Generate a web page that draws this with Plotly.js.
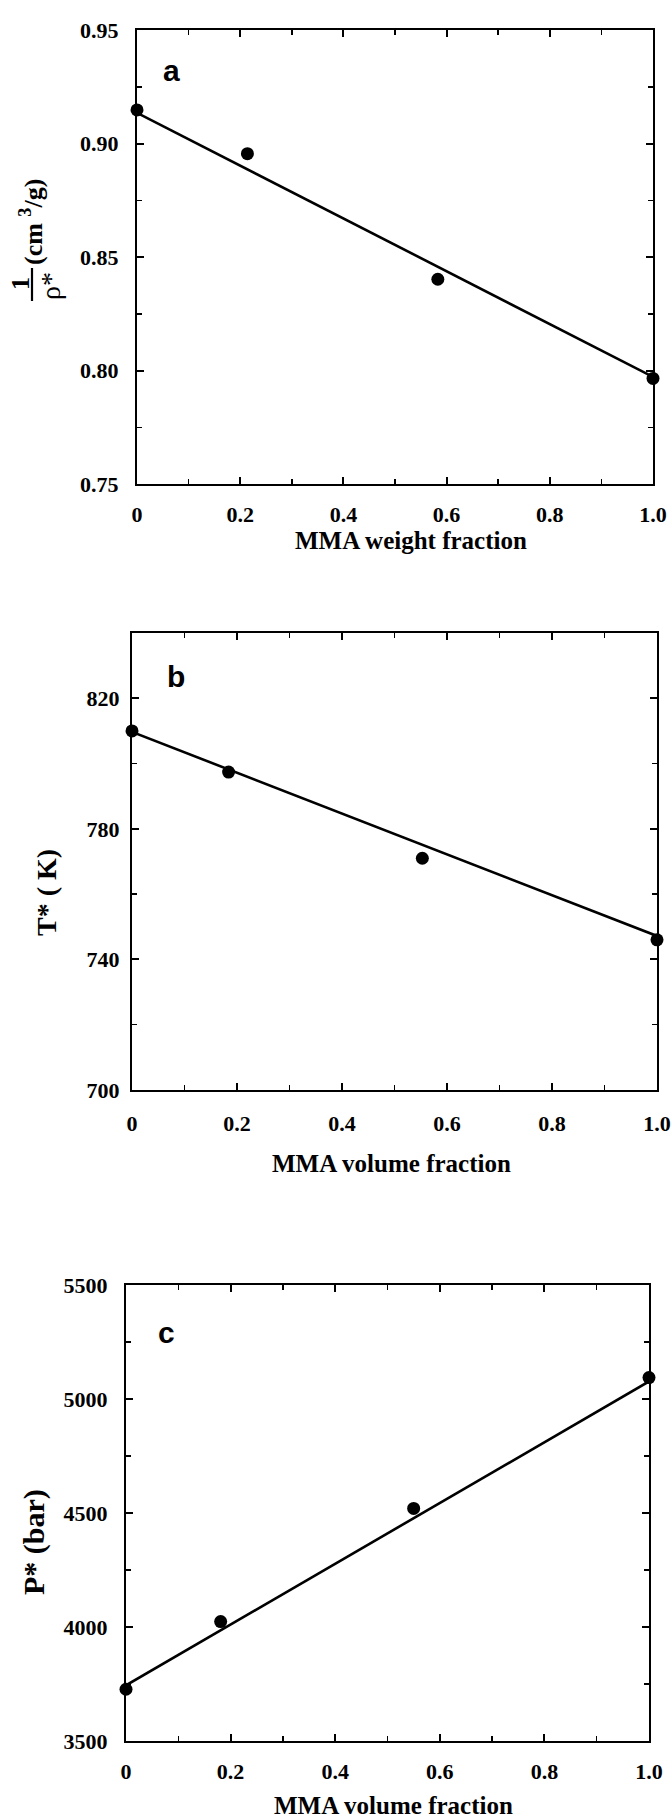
<!DOCTYPE html>
<html>
<head>
<meta charset="utf-8">
<script src="https://cdn.plot.ly/plotly-3.0.1.min.js"></script>
<style>html,body{margin:0;padding:0;background:#fff;}#chart{width:672px;height:1816px;}</style>
</head>
<body>
<div id="chart"></div>
<script>
// Panel a: 1/rho* vs MMA weight fraction
const aX = [0, 0.214, 0.583, 1.0];
const aY = [0.9148, 0.8955, 0.8402, 0.7965];
const aFitX = [0, 1.0];
const aFitY = [0.9135, 0.7972];
// Panel b: T* vs MMA volume fraction
const bX = [0, 0.184, 0.553, 1.0];
const bY = [810.0, 797.4, 771.0, 746.0];
const bFitX = [0, 1.0];
const bFitY = [809.7, 747.2];
// Panel c: P* vs MMA volume fraction
const cX = [0, 0.181, 0.550, 1.0];
const cY = [3727, 4024, 4520, 5094];
const cFitX = [0, 1.0];
const cFitY = [3744, 5077];

const xTickVals = [0, 0.2, 0.4, 0.6, 0.8, 1.0];
const xTickText = ["0", "0.2", "0.4", "0.6", "0.8", "1.0"];
const aTickVals = [0.75, 0.80, 0.85, 0.90, 0.95];
const aTickText = ["0.75", "0.80", "0.85", "0.90", "0.95"];
const bTickVals = [700, 740, 780, 820];
const bTickText = ["700", "740", "780", "820"];
const cTickVals = [3500, 4000, 4500, 5000, 5500];
const cTickText = ["3500", "4000", "4500", "5000", "5500"];

const W = 672, H = 1816;
const px = v => v / W;
const py = v => 1 - v / H;

const SERIF = "Liberation Serif";
const SANS = "Liberation Sans";
const tickFont = {family: SERIF, size: 22, color: '#000', weight: 'bold'};

function pts(x, y, xa, ya) {
  return {x: x, y: y, xaxis: xa, yaxis: ya, type: 'scatter', mode: 'markers',
    marker: {color: '#000', size: 13}, cliponaxis: false, showlegend: false, hoverinfo: 'skip'};
}
function fit(x, y, xa, ya) {
  return {x: x, y: y, xaxis: xa, yaxis: ya, type: 'scatter', mode: 'lines',
    line: {color: '#000', width: 2.6}, cliponaxis: false, showlegend: false, hoverinfo: 'skip'};
}

const data = [
  fit(aFitX, aFitY, 'x', 'y'), pts(aX, aY, 'x', 'y'),
  fit(bFitX, bFitY, 'x2', 'y2'), pts(bX, bY, 'x2', 'y2'),
  fit(cFitX, cFitY, 'x3', 'y3'), pts(cX, cY, 'x3', 'y3')
];

function xax(dom, anchor, standoff) {
  return {domain: dom, anchor: anchor, range: [0, 1], tickvals: xTickVals, ticktext: xTickText,
    showline: true, linecolor: '#000', linewidth: 2, mirror: 'allticks',
    ticks: 'inside', ticklen: 7, tickwidth: 2, tickcolor: '#000',
    minor: {dtick: 0.1, ticks: 'inside', ticklen: 5, tickwidth: 1.5, tickcolor: '#000', showgrid: false},
    showgrid: false, zeroline: false, automargin: false, fixedrange: true,
    tickfont: tickFont, ticklabelstandoff: standoff};
}
function yax(dom, anchor, range, tv, tt, minorDt, standoff) {
  return {domain: dom, anchor: anchor, range: range, tickvals: tv, ticktext: tt,
    showline: true, linecolor: '#000', linewidth: 2, mirror: 'allticks',
    ticks: 'inside', ticklen: 7, tickwidth: 2, tickcolor: '#000',
    minor: {dtick: minorDt, tick0: range[0], ticks: 'inside', ticklen: 5, tickwidth: 1.5, tickcolor: '#000', showgrid: false},
    showgrid: false, zeroline: false, automargin: false, fixedrange: true,
    tickfont: tickFont, ticklabelstandoff: standoff};
}

function ann(text, x, y, opts) {
  return Object.assign({text: text, x: px(x), y: py(y), xref: 'paper', yref: 'paper',
    showarrow: false, xanchor: 'center', yanchor: 'middle',
    font: {family: SERIF, size: 25, color: '#000', weight: 'bold'}}, opts || {});
}
const letterFont = {family: SANS, size: 30, color: '#000', weight: 'bold'};

const layout = {
  width: W, height: H, autosize: false,
  margin: {l: 0, r: 0, t: 0, b: 0, pad: 0},
  paper_bgcolor: '#fff', plot_bgcolor: '#fff',
  font: {family: SERIF, size: 22, color: '#000', weight: 'bold'},
  showlegend: false,
  xaxis: xax([px(137), px(653)], 'y', 10),
  yaxis: yax([py(484), py(30)], 'x', [0.75, 0.95], aTickVals, aTickText, 0.025, 12),
  xaxis2: xax([px(132), px(657)], 'y2', 13),
  yaxis2: yax([py(1090), py(633)], 'x2', [700, 840], bTickVals, bTickText, 20, 6),
  xaxis3: xax([px(126), px(649)], 'y3', 10),
  yaxis3: yax([py(1741), py(1285)], 'x3', [3500, 5500], cTickVals, cTickText, 250, 12),
  annotations: [
    ann('a', 171, 70, {font: letterFont}),
    ann('b', 176, 676, {font: letterFont}),
    ann('c', 166, 1332, {font: letterFont}),
    ann('MMA weight fraction', 411, 541),
    ann('MMA volume fraction', 391, 1163),
    ann('MMA volume fraction', 393, 1805),
    ann('T* ( K)', 46, 893, {textangle: -90, font: {family: SERIF, size: 28, color: '#000', weight: 'bold'}}),
    ann('P* (bar)', 34, 1542, {textangle: -90, font: {family: SERIF, size: 30, color: '#000', weight: 'bold'}}),
    ann('1', 20, 284, {textangle: -90, font: {family: SERIF, size: 26, color: '#000', weight: 'bold'}}),
    ann('ρ*', 51, 286, {textangle: -90, font: {family: SERIF, size: 28, color: '#000', weight: 'normal'}}),
    ann('(cm <sup>3</sup>/g)', 31, 222, {textangle: -90, font: {family: SERIF, size: 26, color: '#000', weight: 'bold'}})
  ],
  shapes: [
    {type: 'line', xref: 'paper', yref: 'paper', x0: px(32), x1: px(32), y0: py(268), y1: py(301),
     line: {color: '#000', width: 2.2}}
  ]
};

Plotly.newPlot('chart', data, layout, {staticPlot: true, displayModeBar: false});
</script>
</body>
</html>
